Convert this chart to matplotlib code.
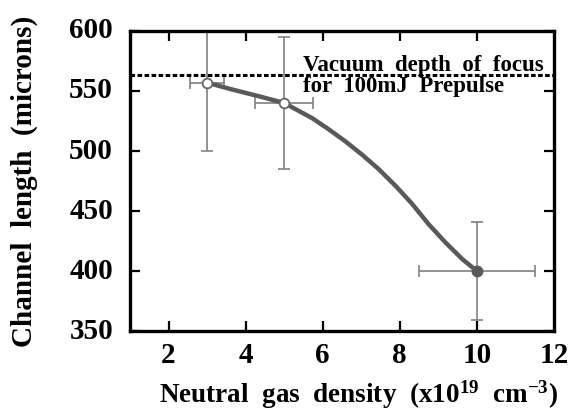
import matplotlib
matplotlib.use('Agg')
import matplotlib.pyplot as plt

# measured points (density in 1e19 cm^-3, channel length in microns)
density = [3, 5, 10]
length = [557, 540, 400]
density_err = [0.45, 0.75, 1.5]
length_err = [57, 55, 41]

# trend curve
curve_x = [3, 3.56, 4.42, 5, 5.72, 6.16, 6.59, 7.02, 7.45, 7.89, 8.32, 8.75, 9.18, 9.62, 10]
curve_y = [557, 552, 545, 540, 527.5, 518, 508, 497, 485, 471, 456, 439, 424, 410, 400]

vacuum_focus = 563
x_ticks = [2, 4, 6, 8, 10, 12]
y_ticks = [350, 400, 450, 500, 550, 600]

plt.rcParams['font.family'] = 'Liberation Serif'
plt.rcParams['font.weight'] = 'bold'
plt.rcParams['mathtext.fontset'] = 'custom'
plt.rcParams['mathtext.rm'] = 'Liberation Serif:bold'
plt.rcParams['mathtext.it'] = 'Liberation Serif:bold'
plt.rcParams['mathtext.bf'] = 'Liberation Serif:bold'

fig = plt.figure(figsize=(5.71, 4.11), dpi=100)
ax = fig.add_axes([0.2277, 0.1946, 0.7423, 0.73])

ax.plot(curve_x, curve_y, color='#595959', lw=3.2, solid_capstyle='round', zorder=2)
ax.errorbar(density, length, xerr=density_err, yerr=length_err, fmt='none',
            ecolor='#808080', elinewidth=1.2, capsize=4, capthick=1.2, zorder=1)
ax.plot(density[:2], length[:2], 'o', ms=7, mfc='white', mec='#666666', mew=1.3, zorder=3)
ax.plot(density[2:], length[2:], 'o', ms=7.5, mfc='#595959', mec='#595959', zorder=3)

ax.axhline(vacuum_focus, color='black', ls=(0, (1.5, 0.8)), lw=2.2, zorder=2)
ax.text(5.5, 567, 'Vacuum  depth  of  focus', fontsize=16.5, va='baseline')
ax.text(5.5, 549, 'for  100mJ  Prepulse', fontsize=16.5, va='baseline')

ax.set_xlim(1, 12)
ax.set_ylim(350, 600)
ax.set_xticks(x_ticks[:-1])
ax.set_yticks(y_ticks)
ax.set_xticklabels([])
ax.set_yticklabels([])
# tick labels placed by hand so 12 shows at the right edge like the original
for t in x_ticks:
    ax.text(t, 330, str(t), ha='center', va='center', fontsize=21, clip_on=False)
for t in y_ticks:
    ax.text(1 - 0.44, t, str(t), ha='right', va='center', fontsize=21, clip_on=False)

ax.tick_params(direction='in', length=7, width=1.6, top=True, right=True)
for s in ax.spines.values():
    s.set_linewidth(2.4)

fig.text(0.627, 0.0195, r'Neutral  gas  density  (x10$^{19}$  cm$^{-3}$)', fontsize=19.5,
         ha='center', va='baseline')
fig.text(24 / 571, 0.5596, 'Channel  length  (microns)', fontsize=21, rotation=90,
         ha='center', va='center')

fig.savefig('out.png', dpi=100)
